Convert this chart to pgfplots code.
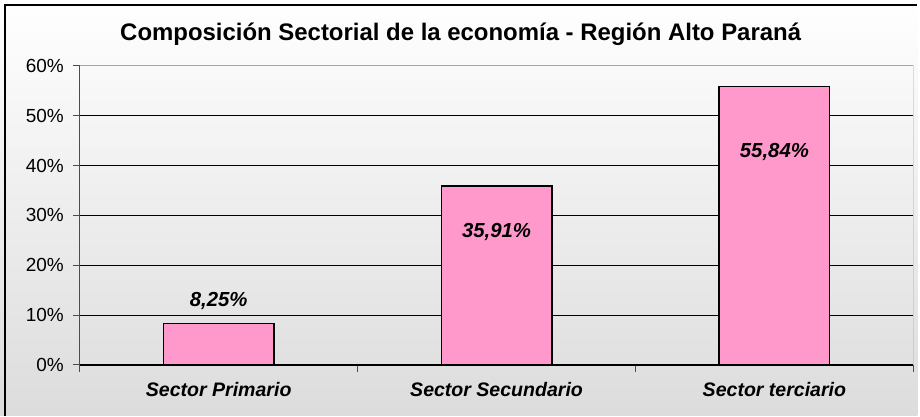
\documentclass[border=0pt]{standalone}
\usepackage{pgfplots}
\pgfplotsset{compat=1.18}
\usepackage{fontspec}
\setmainfont{Liberation Sans}
\definecolor{barpink}{HTML}{FF99CC}
\definecolor{bgbot}{HTML}{DCDCDC}

\begin{document}
\begin{tikzpicture}
% background with gradient, 920x417 px at 0.5pt per px
\shade[top color=white, bottom color=bgbot] (0pt,0pt) rectangle (460pt,208.5pt);
\draw[black, line width=0.9pt] (2.5pt,0pt) -- (2.5pt,206pt) -- (460pt,206pt);
\node[font=\bfseries\fontsize{12}{14}\selectfont, anchor=base] at (231pt,188pt) {Composición Sectorial de la economía - Región Alto Paraná};
\begin{axis}[
    at={(40pt,25.5pt)}, anchor=south west,
    scale only axis,
    width=418pt, height=150pt,
    xmin=-0.5, xmax=2.5,
    ymin=0, ymax=60,
    axis x line=bottom, axis y line=left,
    x axis line style={-, black, line width=0.6pt},
    y axis line style={-, black!70, line width=0.6pt},
    ytick={0,10,...,60},
    yticklabel={\pgfmathprintnumber{\tick}\%},
    yticklabel style={font=\fontsize{9.5}{11}\selectfont, xshift=-1pt},
    /pgf/number format/assume math mode=true,
    ymajorgrids=true,
    grid style={black, line width=0.5pt},
    xtick={-0.5,0.5,1.5,2.5},
    xticklabels={},
    extra x ticks={0,1,2},
    extra x tick labels={Sector Primario, Sector Secundario, Sector terciario},
    extra x tick style={major tick length=0pt, grid=none,
        xticklabel style={font=\bfseries\itshape\fontsize{9.8}{11}\selectfont, yshift=-5pt}},
    tick align=outside,
    major tick length=3.5pt,
    tick style={black!70, line width=0.5pt},
    ybar, bar width=55.5pt,
]
\addplot[fill=barpink, draw=black, line width=0.6pt] coordinates {(0,8.25) (1,35.91) (2,55.84)};
\draw[gray!70, line width=0.6pt] (rel axis cs:0,1) -- (rel axis cs:1,1) -- (rel axis cs:1,0);
\node[font=\bfseries\itshape\fontsize{10.2}{12}\selectfont] at (axis cs:0,12.9) {8,25\%};
\node[font=\bfseries\itshape\fontsize{10.2}{12}\selectfont] at (axis cs:1,26.6) {35,91\%};
\node[font=\bfseries\itshape\fontsize{10.2}{12}\selectfont] at (axis cs:2,42.8) {55,84\%};
\end{axis}
\end{tikzpicture}
\end{document}
